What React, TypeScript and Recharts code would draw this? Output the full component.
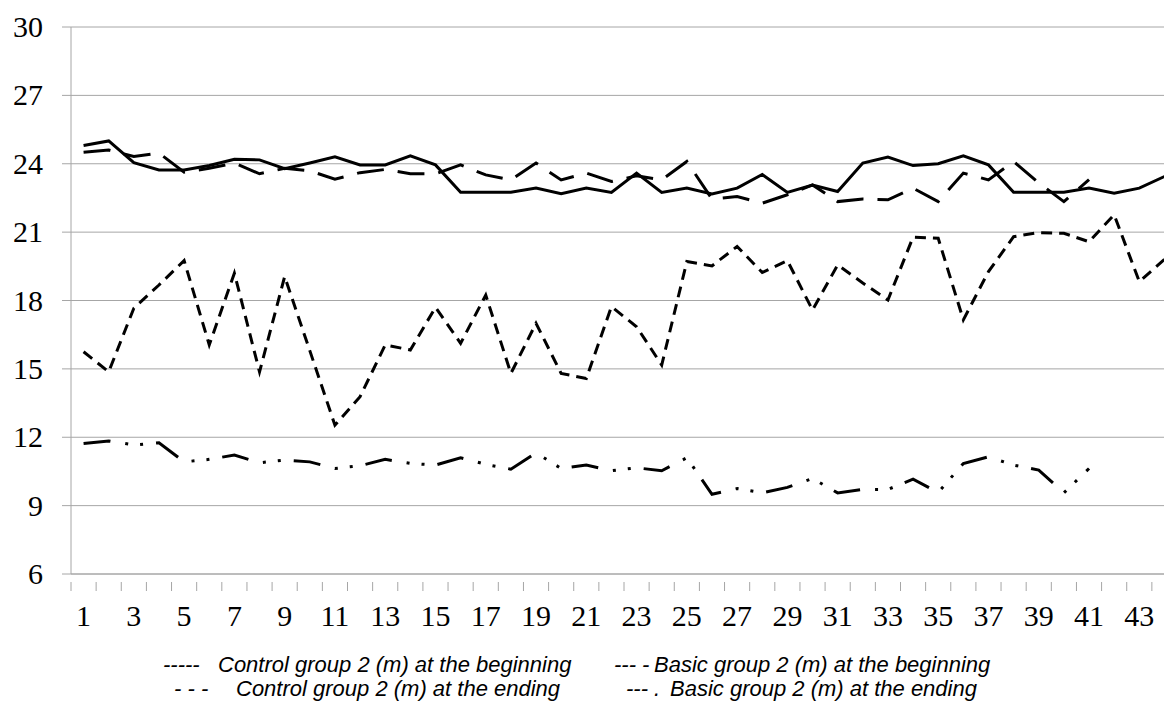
import { LineChart, Line, XAxis, YAxis, CartesianGrid } from "recharts";

const categories = [
  1, 2, 3, 4, 5, 6, 7, 8, 9, 10, 11, 12, 13, 14, 15, 16, 17, 18, 19, 20, 21, 22,
  23, 24, 25, 26, 27, 28, 29, 30, 31, 32, 33, 34, 35, 36, 37, 38, 39, 40, 41, 42, 43, 44,
];

const controlBegin = [
  24.8, 25.0, 24.05, 23.73, 23.73, 23.92, 24.2, 24.17, 23.78, 24.03, 24.3, 23.95, 23.95, 24.35,
  23.95, 22.75, 22.75, 22.75, 22.93, 22.68, 22.93, 22.74, 23.59, 22.74, 22.93, 22.67, 22.93, 23.53,
  22.74, 23.07, 22.78, 24.03, 24.29, 23.92, 24.0, 24.35, 23.95, 22.75, 22.75, 22.75, 22.93, 22.71,
  22.93, 23.44,
];

const basicBegin = [
  24.5, 24.6, 24.32, 24.47, 23.63, 23.8, 24.03, 23.56, 23.8, 23.69, 23.32, 23.61, 23.75, 23.56,
  23.56, 23.95, 23.51, 23.29, 24.03, 23.29, 23.59, 23.22, 23.47, 23.29, 24.1, 22.45, 22.56, 22.27,
  22.64, 23.07, 22.34, 22.45, 22.42, 22.93, 22.34, 23.59, 23.29, 24.1, 23.16, 22.34, 23.3,
];

const controlEnd = [
  15.75, 14.87, 17.66, 18.68, 19.75, 16.05, 19.2, 14.87, 19.05, 15.8, 12.53, 13.78, 16.05, 15.83,
  17.7, 16.12, 18.24, 14.8, 17.0, 14.8, 14.58, 17.73, 16.85, 15.17, 19.71, 19.52, 20.37, 19.23,
  19.75, 17.58, 19.56, 18.77, 18.02, 20.78, 20.73, 17.15, 19.27, 20.8, 20.98, 20.95, 20.58, 21.76,
  18.83, 19.8,
];

const basicEnd = [
  11.73, 11.84, 11.66, 11.76, 10.92, 11.03, 11.22, 10.88, 11.0, 10.92, 10.63, 10.75, 11.03, 10.85,
  10.78, 11.1, 10.81, 10.6, 11.32, 10.63, 10.78, 10.53, 10.66, 10.53, 11.1, 9.5, 9.75, 9.56, 9.8,
  10.19, 9.56, 9.71, 9.71, 10.16, 9.58, 10.85, 11.14, 10.78, 10.56, 9.56, 10.63,
];

const yTicks = [6, 9, 12, 15, 18, 21, 24, 27, 30];

const LEGEND = [
  { mark: "-----", label: "Control group 2 (m) at the beginning", mx: 163, tx: 218, row: 0 },
  { mark: "--- -", label: "Basic group 2 (m) at the beginning", mx: 614, tx: 654, row: 0 },
  { mark: "- - -", label: "Control group 2 (m) at the ending", mx: 174, tx: 236, row: 1 },
  { mark: "--- .", label: "Basic group 2 (m) at the ending", mx: 626, tx: 670, row: 1 },
];

const CHART_W = 1190;
const CHART_H = 709;
const MARGIN = { top: 27, right: 13, left: 0, bottom: 75 };
const Y_AXIS_W = 71;
const PLOT_W = CHART_W - MARGIN.left - MARGIN.right - Y_AXIS_W;
const HALF_STEP = PLOT_W / categories.length / 2;

const GRID = "#a6a6a6";
const SERIF = "'Liberation Serif', 'Times New Roman', Times, 'DejaVu Serif', serif";
const SANS = "'Liberation Sans', Arial, sans-serif";

const data = categories.map((c, i) => ({
  x: c,
  controlBegin: controlBegin[i] ?? null,
  basicBegin: basicBegin[i] ?? null,
  controlEnd: controlEnd[i] ?? null,
  basicEnd: basicEnd[i] ?? null,
}));

// tick marks sit on the category boundaries, labels on odd category centres
const boundaries = categories.map((c) => c - 0.5);

function XTick(props: any) {
  const { x, y, payload } = props;
  const cat = payload.value + 0.5;
  return (
    <g>
      <line x1={x} y1={y} x2={x} y2={y + 9} stroke={GRID} strokeWidth={1} />
      {cat % 2 === 1 && (
        <text x={x + HALF_STEP} y={y + 44} textAnchor="middle" style={{ fontSize: 30, fontFamily: SERIF }} fill="#000">
          {cat}
        </text>
      )}
    </g>
  );
}

function YTick(props: any) {
  const { x, y, payload } = props;
  return (
    <text x={x} y={y} dy={10} textAnchor="end" style={{ fontSize: 30, fontFamily: SERIF }} fill="#000">
      {payload.value}
    </text>
  );
}

export default function App() {
  return (
    <div style={{ position: "absolute", left: 0, top: 0, width: 1164, height: 709, overflow: "hidden", background: "#fff" }}>
      <LineChart width={CHART_W} height={CHART_H} data={data} margin={MARGIN}>
        <CartesianGrid vertical={false} stroke={GRID} strokeWidth={1} />
        <XAxis
          type="number"
          dataKey="x"
          domain={[0.5, 44.5]}
          ticks={boundaries}
          interval={0}
          height={60}
          axisLine={{ stroke: GRID }}
          tickLine={false}
          tick={<XTick />}
        />
        <YAxis
          domain={[6, 30]}
          ticks={yTicks}
          interval={0}
          width={Y_AXIS_W}
          axisLine={{ stroke: GRID }}
          tickLine={{ stroke: GRID }}
          tickSize={9}
          tickMargin={19}
          tick={<YTick />}
        />
        <Line dataKey="controlBegin" type="linear" stroke="#000" strokeWidth={3} dot={false} isAnimationActive={false} />
        <Line dataKey="basicBegin" type="linear" stroke="#000" strokeWidth={3} strokeDasharray="27 14" dot={false} isAnimationActive={false} />
        <Line dataKey="controlEnd" type="linear" stroke="#000" strokeWidth={3} strokeDasharray="11 7" dot={false} isAnimationActive={false} />
        <Line dataKey="basicEnd" type="linear" stroke="#000" strokeWidth={3} strokeDasharray="27 15 3 12 3 13" dot={false} isAnimationActive={false} />
      </LineChart>

      {LEGEND.map((l) => (
        <div key={l.label}>
          <span style={{ position: "absolute", left: l.mx, top: 654 + l.row * 24, fontSize: 22, lineHeight: "22px", fontStyle: "italic", fontFamily: SANS, whiteSpace: "nowrap" }}>
            {l.mark}
          </span>
          <span style={{ position: "absolute", left: l.tx, top: 654 + l.row * 24, fontSize: 22, lineHeight: "22px", fontStyle: "italic", fontFamily: SANS, whiteSpace: "nowrap" }}>
            {l.label}
          </span>
        </div>
      ))}
    </div>
  );
}
